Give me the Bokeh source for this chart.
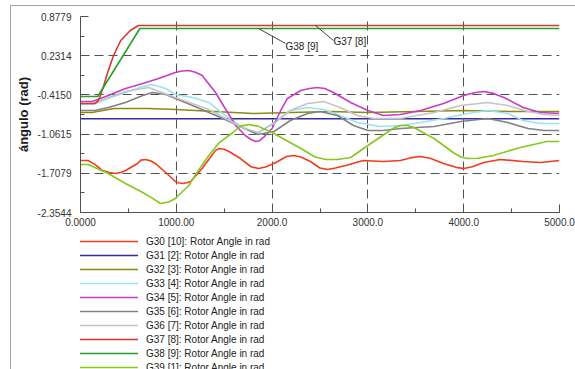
from bokeh.plotting import figure
from bokeh.layouts import column
from bokeh.models import Range1d, FixedTicker, Legend, LegendItem, Label, InlineStyleSheet
from bokeh.embed import file_html
from bokeh.resources import INLINE

# ---------------- data (time in ms, rotor angle in rad) ----------------
g30_t = [0, 80, 150, 230, 300, 365, 420, 470, 595, 630, 680, 730, 780, 890, 990, 1020,
         1065, 1110, 1150, 1270, 1370, 1410, 1450, 1500, 1550, 1670, 1780, 1860, 1940,
         2040, 2150, 2225, 2300, 2400, 2500, 2580, 2660, 2770, 2950, 3160, 3340, 3450,
         3550, 3650, 3790, 3920, 4000, 4090, 4210, 4380, 4620, 4800, 5000]
g30_v = [-1.497, -1.497, -1.56, -1.662, -1.695, -1.711, -1.695, -1.662, -1.546, -1.49,
         -1.480, -1.50, -1.546, -1.695, -1.843, -1.865, -1.876, -1.865, -1.843, -1.629,
         -1.414, -1.33, -1.299, -1.31, -1.348, -1.464, -1.60, -1.629, -1.60, -1.530,
         -1.43, -1.414, -1.44, -1.513, -1.62, -1.645, -1.62, -1.579, -1.497, -1.513,
         -1.497, -1.45, -1.431, -1.46, -1.546, -1.61, -1.629, -1.60, -1.530, -1.480,
         -1.513, -1.530, -1.497]

g31_t = [0, 5000]
g31_v = [-0.809, -0.809]

g32_t = [0, 120, 350, 700, 1000, 1400, 1800, 2200, 2600, 3000, 3500, 4000, 4500, 5000]
g32_v = [-0.705, -0.705, -0.639, -0.639, -0.656, -0.689, -0.722, -0.705, -0.689, -0.705,
         -0.689, -0.672, -0.689, -0.689]

g33_t = [0, 125, 290, 470, 650, 750, 890, 990, 1170, 1340, 1510, 1690, 1850, 2020, 2190,
         2370, 2540, 2710, 2890, 3130, 3340, 3550, 3790, 4040, 4250, 4460, 4620, 4800, 5000]
g33_v = [-0.573, -0.573, -0.474, -0.375, -0.276, -0.243, -0.309, -0.408, -0.458, -0.540,
         -0.755, -0.953, -1.052, -0.870, -0.672, -0.623, -0.656, -0.755, -0.870, -0.936,
         -0.920, -0.870, -0.804, -0.722, -0.672, -0.722, -0.837, -0.887, -0.887]

g34_t = [0, 125, 290, 470, 650, 815, 990, 1060, 1130, 1200, 1270, 1410, 1510, 1620, 1720,
         1780, 1830, 1870, 1910, 2000, 2090, 2160, 2300, 2390, 2470, 2550, 2640, 2820, 3000,
         3160, 3340, 3550, 3790, 4000, 4110, 4210, 4310, 4420, 4620, 4800, 5000]
g34_v = [-0.524, -0.524, -0.425, -0.309, -0.227, -0.145, -0.046, -0.02, -0.013, -0.04,
         -0.095, -0.375, -0.639, -0.920, -1.085, -1.15, -1.184, -1.17, -1.117, -0.969,
         -0.672, -0.474, -0.342, -0.31, -0.293, -0.31, -0.375, -0.540, -0.672, -0.755,
         -0.738, -0.672, -0.557, -0.425, -0.38, -0.359, -0.39, -0.458, -0.623, -0.705,
         -0.722]

g35_t = [0, 150, 290, 470, 650, 750, 890, 990, 1170, 1340, 1510, 1690, 1850, 2020, 2190,
         2370, 2500, 2680, 2850, 3000, 3160, 3340, 3690, 3970, 4250, 4460, 4670, 4840, 5000]
g35_v = [-0.672, -0.672, -0.623, -0.540, -0.425, -0.375, -0.408, -0.474, -0.590, -0.705,
         -0.821, -0.953, -1.068, -1.019, -0.837, -0.722, -0.689, -0.755, -0.920, -1.002,
         -1.002, -0.969, -0.936, -0.854, -0.804, -0.870, -0.969, -1.002, -1.002]

g36_t = [0, 125, 290, 470, 710, 990, 1340, 1690, 1850, 2020, 2190, 2370, 2540, 2710, 2890,
         3060, 3340, 3690, 3970, 4250, 4460, 4670, 4840, 5000]
g36_v = [-0.557, -0.557, -0.458, -0.359, -0.293, -0.458, -0.656, -0.953, -1.035, -0.887,
         -0.672, -0.557, -0.524, -0.623, -0.755, -0.804, -0.804, -0.705, -0.590, -0.540,
         -0.590, -0.689, -0.738, -0.755]

g37_t = [0, 150, 180, 200, 240, 280, 345, 420, 520, 605, 5000]
g37_v = [-0.557, -0.557, -0.52, -0.458, -0.276, -0.062, 0.235, 0.482, 0.647, 0.730, 0.730]

g38_t = [0, 180, 620, 5000]
g38_v = [-0.441, -0.441, 0.680, 0.680]

g39_t = [0, 80, 290, 470, 650, 740, 835, 920, 990, 1130, 1230, 1340, 1440, 1590, 1670,
         1755, 1850, 2000, 2300, 2450, 2560, 2680, 2820, 3030, 3200, 3270, 3340, 3410,
         3480, 3690, 3890, 3970, 4040, 4150, 4310, 4590, 4870, 5000]
g39_v = [-1.563, -1.563, -1.711, -1.876, -2.024, -2.11, -2.206, -2.18, -2.123, -1.909,
         -1.662, -1.414, -1.216, -1.035, -0.93, -0.903, -0.93, -1.035, -1.299, -1.44,
         -1.480, -1.48, -1.447, -1.216, -1.035, -0.96, -0.920, -0.92, -0.953, -1.134,
         -1.365, -1.44, -1.464, -1.46, -1.414, -1.282, -1.183, -1.183]

series_names = ["G30 [10]: Rotor Angle in rad", "G31 [2]: Rotor Angle in rad",
                "G32 [3]: Rotor Angle in rad", "G33 [4]: Rotor Angle in rad",
                "G34 [5]: Rotor Angle in rad", "G35 [6]: Rotor Angle in rad",
                "G36 [7]: Rotor Angle in rad", "G37 [8]: Rotor Angle in rad",
                "G38 [9]: Rotor Angle in rad", "G39 [1]: Rotor Angle in rad"]
series_colors = ["#f23c1c", "#3a2aa0", "#8c8a10", "#9ae4ee", "#c63cc6",
                 "#828282", "#c4c4c4", "#d43a30", "#26a026", "#84c81c"]
series_t = [g30_t, g31_t, g32_t, g33_t, g34_t, g35_t, g36_t, g37_t, g38_t, g39_t]
series_v = [g30_v, g31_v, g32_v, g33_v, g34_v, g35_v, g36_v, g37_v, g38_v, g39_v]

x_ticks = [0, 1000, 2000, 3000, 4000, 5000]
x_minor = [500, 1500, 2500, 3500, 4500]
x_tick_labels = ["0.0000", "1000.00", "2000.0", "3000.0", "4000.0", "5000.0"]
y_ticks = [-2.3544, -1.7079, -1.0615, -0.4150, 0.2314, 0.8779]
y_minor = [-2.0312, -1.3847, -0.7383, -0.0918, 0.5547]
y_tick_labels = ["-2.3544", "-1.7079", "-1.0615", "-0.4150", "0.2314", "0.8779"]

# leader-line annotations: (label, start t, start v, end t, end v, text v)
callouts = [("G38 [9]", 1858, 0.680, 2140, 0.433, 0.375),
            ("G37 [8]", 2453, 0.730, 2640, 0.482, 0.471)]

FONT = "Liberation Sans"

frame_css = InlineStyleSheet(css="""
:host { position: relative; }
:host::after {
  content: "";
  position: absolute;
  left: 10px; top: 5px; right: -10px; bottom: -10px;
  border-left: 1.5px solid #a4a4a4;
  border-top: 1.5px solid #a4a4a4;
  pointer-events: none;
}
""")

# ---------------- main chart ----------------
p = figure(width=575, height=230, output_backend="svg", toolbar_location=None,
           x_range=Range1d(0, 5000), y_range=Range1d(-2.3544, 0.8779),
           min_border_left=80, min_border_right=16, min_border_top=16,
           min_border_bottom=18)
p.outline_line_color = None
p.background_fill_color = "white"
p.border_fill_color = "white"

for ax, ticks, minor, labels in [(p.xaxis[0], x_ticks, x_minor, x_tick_labels),
                                 (p.yaxis[0], y_ticks, y_minor, y_tick_labels)]:
    ax.ticker = FixedTicker(ticks=ticks, minor_ticks=minor)
    ax.major_label_overrides = {t: l for t, l in zip(ticks, labels)}
    ax.major_tick_in = 8
    ax.major_tick_out = 0
    ax.minor_tick_in = 4
    ax.minor_tick_out = 0
    ax.axis_line_color = "#505050"
    ax.major_tick_line_color = "#505050"
    ax.minor_tick_line_color = "#505050"
    ax.major_label_text_font = FONT
    ax.major_label_text_font_size = "10px"
    ax.major_label_text_color = "#333333"

p.xaxis.major_label_standoff = 5
p.yaxis.major_label_standoff = 9
p.yaxis.axis_label = "ángulo (rad)"
p.yaxis.axis_label_text_font = FONT
p.yaxis.axis_label_text_font_style = "bold"
p.yaxis.axis_label_text_font_size = "13px"
p.yaxis.axis_label_text_color = "#1a1a1a"
p.yaxis.axis_label_standoff = 4

for g in (p.xgrid[0], p.ygrid[0]):
    g.grid_line_color = "#505050"
    g.grid_line_dash = "9 5"
    g.grid_line_width = 1

for t, v, c in zip(series_t, series_v, series_colors):
    p.line(t, v, line_color=c, line_width=1.6)

for text, t0, v0, t1, v1, vt in callouts:
    p.line([t0, t1], [v0, v1], line_color="#404040", line_width=1)
    p.add_layout(Label(x=t1, y=vt, text=text, text_font=FONT, text_font_size="10px",
                       text_color="#222222", text_baseline="middle", text_align="left"))

p.add_layout(Label(x=4500, y=-2.536, text="[ms]", text_font=FONT, text_font_size="10px",
                   text_color="#333333", text_baseline="middle", text_align="center"))

# ---------------- legend panel ----------------
leg = figure(width=575, height=139, output_backend="svg", toolbar_location=None,
             x_axis_type=None, y_axis_type=None, x_range=Range1d(0, 1), y_range=Range1d(0, 1),
             min_border=0)
leg.outline_line_color = None
leg.xgrid.visible = False
leg.ygrid.visible = False
nan = float("nan")
swatches = [leg.line([nan], [nan], line_color=c, line_width=1.6) for c in series_colors]
legend = Legend(items=[LegendItem(label=n, renderers=[r]) for n, r in zip(series_names, swatches)],
                location=(-1, -5), orientation="vertical",
                border_line_color=None, background_fill_alpha=0,
                padding=0, margin=0, spacing=0, glyph_width=59, glyph_height=14,
                label_height=14, label_standoff=8, label_text_font=FONT,
                label_text_font_size="10px", label_text_color="#222222")
leg.add_layout(legend)

layout = column(p, leg, spacing=0, stylesheets=[frame_css])

open("out.html", "w").write(file_html(layout, INLINE))
